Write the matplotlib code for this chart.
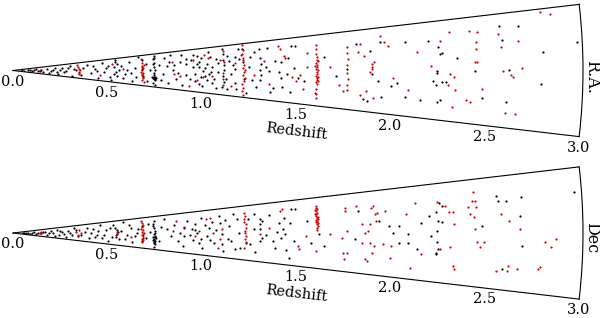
import numpy as np
import matplotlib
matplotlib.use('Agg')
import matplotlib.pyplot as plt

plt.rcParams['font.family'] = 'DejaVu Serif'

# redshift ticks along the lower edge of each wedge
z_ticks = [0.0, 0.5, 1.0, 1.5, 2.0, 2.5, 3.0]
z_labels = ['0.0', '0.5', '1.0', '1.5', '2.0', '2.5', '3.0']
half_angle = 6.66  # degrees, half opening of the wedge
panel_names = ['R.A.', 'Dec']

# (redshift, angle offset in deg)
ra_black = [
    (0.08, 1.0), (0.10, -2.0), (0.12, 3.0), (0.14, -0.5), (0.16, -3.0), (0.18, 2.0), (0.20, -1.0),
    (0.22, 4.0), (0.24, -4.0), (0.25, 1.0), (0.27, -2.0), (0.29, 3.0), (0.31, -5.0), (0.30, 5.0),
    (0.33, 0.0), (0.39, 4.0), (0.41, -2.0), (0.43, 1.0), (0.45, -5.0), (0.47, 5.0), (0.48, -1.0),
    (0.50, 3.0), (0.51, -4.0), (0.53, 2.0), (0.54, 5.0), (0.54, -1.0), (0.55, -3.0), (0.56, 0.0),
    (0.55, 3.5), (0.53, -2.0), (0.54, 6.0), (0.59, -2.0), (0.61, 4.0), (0.63, -5.0), (0.64, 1.0),
    (0.66, 6.0), (0.68, 4.5), (0.685, -2.5), (0.68, 0.5),
    (0.05, 0.5), (0.06, -1.0), (0.09, 0.0), (0.11, 1.5), (0.13, -2.0), (0.15, 1.0), (0.19, -4.0),
    (0.21, 0.0), (0.23, -2.0), (0.26, 3.0), (0.28, -0.5), (0.32, 1.5), (0.36, -4.0), (0.37, 2.0),
    (0.42, 3.5), (0.44, -0.5), (0.49, 1.5), (0.52, -5.5), (0.57, 2.5), (0.58, -4.0), (0.60, 0.5),
    (0.62, -1.0), (0.65, -3.0), (0.70, 3.0), (0.71, -4.5), (0.72, 0.0), (0.77, 2.0), (0.78, -3.5),
    (0.745, 6.0), (0.74, 4.5), (0.745, 3.0), (0.74, 1.5), (0.745, 0.0), (0.74, -1.0), (0.745, -2.0),
    (0.75, -2.6), (0.745, -2.9), (0.74, -3.2), (0.745, -3.5), (0.75, -4.0), (0.74, -5.0), (0.75, -6.0),
    (0.755, -3.0), (0.735, -2.8), (0.745, -2.7), (0.75, -3.3), (0.74, 2.5), (0.745, 5.0),
    (0.80, 4.9), (0.81, 1.5), (0.83, 5.8), (0.84, 0.0), (0.91, 3.7), (0.91, 2.0), (0.91, -1.4),
    (0.89, -4.8), (0.86, -3.0), (0.88, 3.0), (0.79, -1.5), (0.82, -4.5),
    (0.82, 3.2), (0.85, 1.8), (0.87, -0.8), (0.89, 5.2), (0.93, -2.6), (0.95, 5.0), (0.97, 2.0),
    (0.99, 3.8), (1.01, -1.6), (1.03, 5.5), (1.04, -0.3), (1.07, -5.0), (1.08, 2.2),
    (0.94, 3.5), (0.95, 1.0), (0.96, -1.0), (0.97, 4.4), (0.98, 1.0), (0.98, 2.6), (1.00, -0.3),
    (0.98, -4.3), (1.00, -4.6), (1.01, 0.8), (1.02, 1.9), (1.03, -1.0), (1.05, -3.6), (1.05, 1.0),
    (1.06, -2.5), (0.99, -2.0), (1.02, -2.8), (1.07, 3.2), (1.04, 4.0), (0.96, -3.2), (1.08, -0.5),
    (1.105, 6.0), (1.11, 4.5), (1.105, 3.0), (1.11, 1.5), (1.11, 0.0), (1.105, -1.5), (1.11, -3.0),
    (1.105, -4.5), (1.14, 2.4), (1.15, -1.0), (1.17, 3.6), (1.17, 0.3), (1.17, -3.1), (1.13, -5.0),
    (1.19, 5.5), (1.21, 2.0), (1.215, -2.0), (1.21, 5.3),
    (1.12, -2.2), (1.13, 3.8), (1.16, 1.5), (1.18, -4.8), (1.19, 2.8), (1.23, -5.5), (1.27, 4.5),
    (1.28, -3.8), (1.33, 0.8), (1.34, 5.0), (1.36, -4.8), (1.38, 2.0), (1.44, -0.8), (1.46, -4.5),
    (1.48, 0.5),
    (1.24, 0.8), (1.25, 3.2), (1.26, -2.2), (1.30, 4.9), (1.30, 3.0), (1.305, 1.5), (1.30, 0.0),
    (1.305, -1.0), (1.30, -2.1), (1.35, -0.2), (1.37, -3.8), (1.41, 1.9), (1.40, -0.4), (1.41, -1.5),
    (1.42, -3.6), (1.45, 2.7), (1.47, 5.0), (1.53, -2.0), (1.49, 4.9), (1.50, -1.6),
    (1.64, 2.4), (1.88, 3.1), (1.89, -0.6), (1.85, -4.7), (1.92, -1.7), (1.94, 4.5), (1.99, -2.4),
    (1.94, -4.2), (2.02, -1.8), (2.07, 4.1), (2.07, -3.8), (2.15, -4.1), (2.19, 4.0), (2.21, -1.5),
    (2.25, -3.9), (2.26, 2.4), (2.23, -0.3), (1.76, 0.2), (1.81, 4.5), (1.87, -5.0), (1.70, -1.0),
    (2.57, 5.2), (2.67, 5.0), (2.58, 3.6), (2.24, 3.2), (2.25, 2.2), (2.34, 1.6), (2.79, 2.0),
    (2.97, 2.9), (2.23, -0.1), (2.43, -0.1), (2.61, 0.1), (2.78, -1.5), (2.26, -1.6), (2.28, -1.5),
    (2.23, -1.9), (2.47, -3.3), (2.24, -4.3), (2.60, -3.7),
]
ra_red = [
    (0.14, 2.0), (0.34, 3.0), (0.345, 1.0), (0.35, -1.0), (0.35, -3.0), (0.34, 5.0), (0.355, 0.0),
    (0.345, -2.0), (0.46, -3.0), (0.52, 4.0), (0.58, 1.0),
    (0.675, 5.0), (0.68, 3.5), (0.68, 2.0), (0.685, 1.0), (0.68, 0.0), (0.685, -1.0), (0.68, -2.0),
    (0.685, -3.0), (0.68, -4.0), (0.69, -5.0), (0.675, -0.5), (0.69, 2.5), (0.68, -1.5),
    (0.685, -3.5), (0.68, 1.5),
    (0.85, -1.4), (0.84, 3.0), (0.88, -2.0), (0.93, -5.0), (0.95, 3.2), (1.00, -2.1), (1.03, 3.8),
    (0.97, -3.0), (1.01, 4.5), (1.05, -1.5), (1.09, 3.0), (1.11, -4.0), (1.105, -2.2), (1.11, 2.2),
    (1.11, 5.2), (1.105, -0.7), (1.15, -4.0), (1.17, 2.0),
    (1.21, 6.3), (1.215, 5.2), (1.21, 4.2), (1.215, 3.2), (1.21, 2.6), (1.215, 1.4), (1.21, 0.6),
    (1.215, -0.4), (1.21, -1.2), (1.215, -2.6), (1.21, -3.4), (1.215, -4.4), (1.21, -5.2),
    (1.215, -6.0), (1.22, 0.0), (1.205, 3.8), (1.22, -1.8),
    (1.27, -1.0), (1.32, 2.1), (1.35, -3.1), (1.40, 5.2), (1.41, 4.5), (1.43, 3.0), (1.435, 2.7),
    (1.47, -1.4), (1.49, -2.2), (1.51, -0.8), (1.55, 3.5), (1.55, 0.6), (1.53, -3.7),
    (1.60, 4.9), (1.60, 4.0), (1.595, 3.2), (1.60, 2.5), (1.60, 2.0), (1.595, 1.5), (1.60, 1.0),
    (1.60, 0.6), (1.595, 0.2), (1.60, -0.2), (1.60, -0.6), (1.595, -1.0), (1.60, -1.4), (1.60, -1.8),
    (1.595, -2.2), (1.60, -2.6), (1.60, -3.4), (1.595, -4.2), (1.60, -4.5), (1.60, -5.1),
    (1.605, 0.0), (1.605, -1.2), (1.605, 1.8), (1.605, -2.0), (1.59, 0.8),
    (1.67, 0.7), (1.72, -2.5), (1.74, -3.6),
    (1.76, 4.1), (1.76, 3.0), (1.765, 2.0), (1.76, 1.0), (1.76, -0.5), (1.765, -1.5), (1.76, -2.5),
    (1.76, -3.3),
    (1.82, 3.0), (1.83, 4.3), (1.85, 2.3), (1.89, 1.0), (1.89, 0.2), (1.90, 1.4), (1.83, -4.0),
    (1.86, -3.4), (1.90, -4.3), (1.94, 5.3), (1.96, 4.4), (1.98, 3.7), (2.00, -1.1), (2.08, -2.8),
    (2.13, 2.6), (2.20, 0.6), (2.25, 3.9), (1.89, 0.5), (1.88, -0.2),
    (2.305, 5.0), (2.41, 4.9), (2.45, 4.8), (2.56, 4.3), (2.44, 3.5), (2.66, 3.3), (2.57, 2.8),
    (2.44, 2.6), (2.44, 1.1), (2.43, 1.0), (2.30, -0.5), (2.32, -0.9), (2.58, -0.1), (2.62, -0.5),
    (2.63, -0.8), (2.68, 0.3), (2.29, -1.9), (2.33, -2.5), (2.47, -2.2), (2.39, -3.7), (2.41, -3.9),
    (2.32, -4.7), (2.60, -4.9), (2.65, -5.0), (2.79, 6.3), (2.84, 6.0),
]

dec_black = [
    (0.07, 0.5), (0.09, -2.0), (0.11, 2.5), (0.13, -1.0), (0.16, 1.5), (0.18, -3.0), (0.20, 3.0),
    (0.21, -0.5), (0.23, 4.0), (0.24, -2.5), (0.26, 1.0), (0.28, -4.0), (0.29, 2.0), (0.31, -1.5),
    (0.32, 4.5), (0.34, -3.0),
    (0.05, 0.0), (0.06, -1.5), (0.08, 1.5), (0.10, 0.0), (0.12, -2.5), (0.15, -1.0), (0.17, 2.5),
    (0.19, 0.5), (0.22, -3.5), (0.25, 2.0), (0.27, -1.0), (0.30, 0.0), (0.33, 2.5), (0.36, -2.0),
    (0.39, 3.5), (0.41, 0.0), (0.43, -3.0), (0.45, 1.5), (0.48, -1.0), (0.51, 3.0), (0.52, -2.5),
    (0.57, 1.0), (0.59, -3.0), (0.61, 4.0), (0.64, -1.5), (0.66, 2.0), (0.70, -2.0), (0.71, 4.0),
    (0.72, 0.5), (0.77, -3.0), (0.78, 2.5), (0.83, -1.0), (0.85, 3.0), (0.88, 0.0), (0.93, -0.5),
    (0.96, 1.0), (0.99, 4.5), (1.01, 2.3), (1.04, -2.0), (1.07, 0.8), (1.12, 3.5), (1.13, -1.5),
    (1.16, 5.0), (1.17, -4.0), (1.27, 4.5), (1.28, -4.5), (1.33, -0.5), (1.35, 4.0), (1.39, 0.2),
    (1.44, -3.5),
    (0.38, 1.0), (0.40, -4.0), (0.42, 3.0), (0.44, -1.5), (0.46, 5.0), (0.47, -3.0), (0.49, 2.0),
    (0.50, -5.0), (0.53, 4.5), (0.54, 3.0), (0.545, 1.5), (0.55, -0.5), (0.54, -2.0), (0.56, -3.5),
    (0.555, 0.5), (0.58, 5.5), (0.60, -1.0), (0.62, 2.5), (0.63, -4.5), (0.65, 0.0),
    (0.68, 3.0), (0.685, -2.0), (0.68, -3.5),
    (0.745, 4.9), (0.74, 3.5), (0.745, 2.0), (0.75, 1.0), (0.745, 0.0), (0.74, -0.5), (0.745, -1.2),
    (0.75, -1.8), (0.745, -2.4), (0.74, -3.0), (0.745, -3.6), (0.75, -4.5), (0.755, -2.0),
    (0.735, -1.5), (0.745, -5.5), (0.745, -2.8), (0.75, -3.3), (0.745, -4.0), (0.74, 2.7),
    (0.80, 5.3), (0.81, 1.5), (0.87, -2.9), (0.90, 1.7), (0.90, -1.0), (0.90, -4.4), (0.94, 1.3),
    (0.96, 2.9), (0.97, 0.0), (0.98, -3.1), (0.99, -1.8), (1.00, -4.5), (1.03, 1.5), (1.02, -0.9),
    (1.06, -2.9), (1.09, 4.7), (1.09, 2.8), (1.10, -0.3), (1.10, -3.0), (1.11, -4.9), (1.14, 1.9),
    (1.15, -2.1), (1.18, 3.6), (1.19, 0.0), (1.20, -3.8), (1.23, -2.5), (1.24, 3.4), (1.25, -2.7),
    (1.27, 1.0), (1.30, 3.3), (1.30, 2.1), (1.30, 0.9), (1.31, -1.2), (1.30, -1.9), (1.31, 2.7),
    (1.37, -1.8), (1.38, -3.3), (1.43, 3.2), (1.40, 2.2), (1.42, 0.9), (1.43, -0.2), (1.41, -1.1),
    (1.46, 2.1), (1.47, 4.9), (1.46, -5.2), (0.92, 3.8), (0.95, -2.2), (1.05, 3.3),
    (1.61, -0.2), (1.55, 2.3), (1.48, -1.6), (1.49, 4.9), (1.57, -1.9), (1.64, -2.4), (1.82, 3.7),
    (1.80, -1.0), (1.93, 1.9), (1.98, 1.1), (2.00, 0.0), (2.03, 1.0), (2.08, -0.1), (2.08, -1.5),
    (2.03, -1.5), (2.15, 1.4), (2.19, 2.4), (2.25, 4.0), (2.20, -0.4), (2.23, -2.7), (2.13, -2.3),
    (2.26, 3.6), (2.23, 2.9), (2.24, 1.6), (2.26, 1.5), (2.23, 0.3), (2.23, -1.2), (2.24, -2.2),
    (2.23, -2.9), (2.47, 0.9), (2.55, 4.4), (2.56, 3.8), (2.60, 3.7), (2.68, 4.1), (2.67, 1.9),
    (2.68, -1.5), (2.58, -4.2), (2.96, 4.2),
]
dec_red = [
    (0.14, 1.0), (0.15, -0.5), (0.145, 2.0), (0.33, 1.0), (0.34, -1.5), (0.35, 3.0), (0.36, 0.0),
    (0.55, 0.8), (0.54, -1.0), (0.62, -2.0),
    (0.675, 5.4), (0.68, 4.3), (0.685, 3.5), (0.68, 2.5), (0.685, 1.5), (0.68, 0.5), (0.685, -0.5),
    (0.68, -1.0), (0.685, -1.5), (0.68, -2.5), (0.685, -3.0), (0.68, -4.1), (0.675, 2.0),
    (0.69, -0.2),
    (0.84, 0.7), (0.86, 4.2), (0.90, 2.0), (0.96, -1.0), (0.98, 0.6), (1.02, 4.2), (1.04, 4.4),
    (1.05, 0.0), (1.10, 1.1), (1.09, -1.7), (1.08, -4.2), (1.35, 1.1), (1.41, 4.7), (1.42, 5.1),
    (1.50, -2.6), (1.51, -3.2), (1.30, -0.2),
    (1.22, 5.0), (1.22, 3.5), (1.225, 2.2), (1.225, 1.2), (1.22, 0.0), (1.225, -0.7), (1.22, -1.5),
    (1.22, -3.7), (1.225, 4.3), (1.215, 2.8), (1.22, 0.6), (1.225, -2.2),
    (1.60, 5.1), (1.60, 4.7), (1.595, 4.4), (1.60, 4.1), (1.605, 3.8), (1.60, 3.5), (1.595, 3.2),
    (1.60, 2.9), (1.605, 2.6), (1.60, 2.3), (1.595, 2.0), (1.60, 1.7), (1.605, 1.4), (1.60, 1.0),
    (1.60, 0.5), (1.605, 4.5), (1.595, 3.6), (1.605, 3.0), (1.595, 2.4), (1.605, 1.9), (1.60, -3.4),
    (1.54, -0.6), (1.67, -0.2), (1.75, 4.3), (1.75, 3.8), (1.76, 0.3), (1.73, -0.9), (1.74, -3.5),
    (1.75, -4.5), (1.76, -3.4), (1.81, 4.5), (1.84, 1.5), (1.85, 0.0), (1.87, 0.3), (1.88, 1.5),
    (1.84, -1.6), (1.88, -1.6), (1.90, -2.1), (1.89, -3.2), (1.86, -4.2), (1.87, -4.5), (1.91, 3.0),
    (1.91, 1.9), (1.89, 4.0), (1.90, 4.3), (1.92, 3.2), (1.96, 3.4), (1.99, -2.0), (1.99, -3.8),
    (1.95, -1.7), (2.07, 2.8), (2.10, -5.1), (2.12, 4.3), (2.25, -2.2), (2.15, -3.0),
    (2.24, 4.2), (2.28, 3.6), (2.30, 2.8), (2.32, 2.7), (2.32, 1.2), (2.30, -1.8), (2.32, -4.3),
    (2.33, -4.7), (2.43, 5.1), (2.42, 4.0), (2.44, 4.0), (2.40, 3.3), (2.44, 3.2), (2.41, 2.4),
    (2.43, 2.0), (2.43, 0.5), (2.44, -1.1), (2.48, -1.1), (2.46, -1.7), (2.57, 2.2), (2.61, 1.4),
    (2.67, 0.5), (2.55, -4.5), (2.61, -3.8), (2.61, -4.4), (2.66, -4.1), (2.77, -3.9), (2.78, -3.7),
    (2.80, -1.0), (2.83, -1.5), (2.86, -0.6),
]


def wedge(fig, rect, black, red):
    ax = fig.add_axes(rect, projection='polar')
    b = np.array(black)
    r = np.array(red)
    ax.scatter(np.radians(b[:, 1]), b[:, 0], s=2.5, c='k', linewidths=0)
    ax.scatter(np.radians(r[:, 1]), r[:, 0], s=2.5, c='#cc0000', linewidths=0)
    ax.set_thetamin(-half_angle)
    ax.set_thetamax(half_angle)
    ax.set_rorigin(0)
    ax.set_rlim(0, 3.0)
    ax.grid(False)
    ax.set_xticks([])
    ax.set_yticks(z_ticks)
    ax.set_yticklabels(z_labels)
    ax.tick_params(axis='y', length=0, labelsize=10.5, pad=3)
    return ax


fig = plt.figure(figsize=(6, 3.18), dpi=100)
# the wedge sits in the middle band of a square axes box (equal aspect)
side = 570
rects = []
for yc in [70.5, 233]:
    rects.append([13 / 600, (318 - yc - side / 2) / 318, side / 600, side / 318])
name_y = [77, 238]
label_y = [132, 294]
for rect, (blk, red), nm, ny, ly in zip(rects, [(ra_black, ra_red), (dec_black, dec_red)],
                                         panel_names, name_y, label_y):
    wedge(fig, rect, blk, red)
    fig.text(592 / 600, 1 - ny / 318, nm, rotation=270, ha='center', va='center', fontsize=11.5)
    fig.text(296 / 600, 1 - ly / 318, 'Redshift', rotation=-6.7, ha='center', va='center',
             fontsize=10.5)

fig.savefig('out.png', dpi=100)
